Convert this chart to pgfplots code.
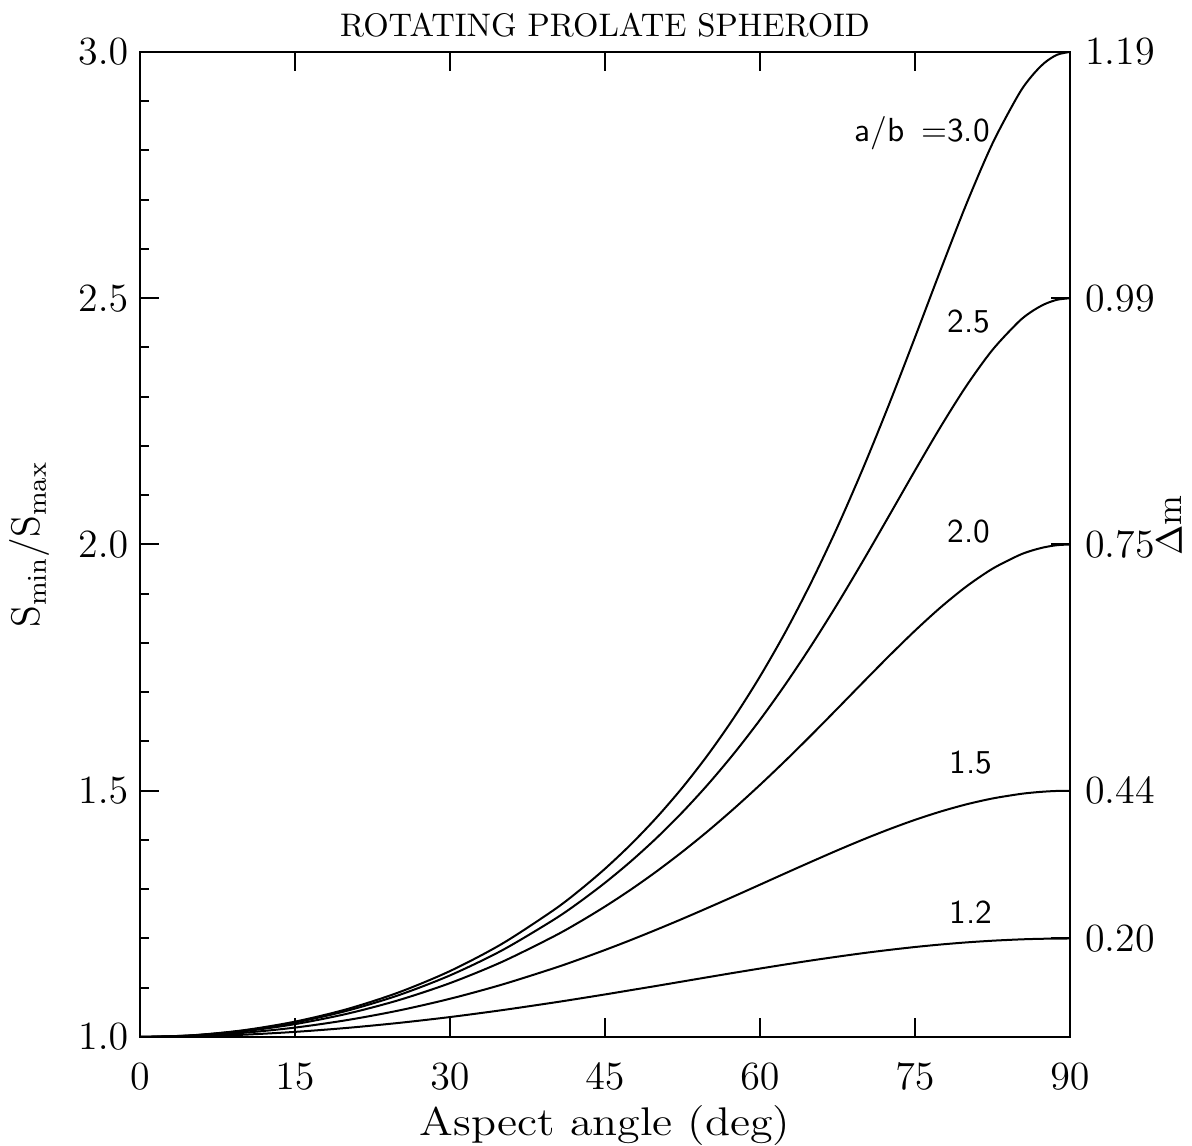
\documentclass[border=0pt]{standalone}
\usepackage{graphicx}
\usepackage{pgfplots}
\usepackage{pgfplotstable}
\pgfplotsset{compat=1.18}

% S_min/S_max against aspect angle, one column per axial ratio a/b
\pgfplotstableread{
x     r12    r15    r20    r25    r30
0     1.0000 1.0000 1.0000 1.0000 1.0000
5     1.0012 1.0021 1.0029 1.0032 1.0034
10    1.0046 1.0085 1.0115 1.0129 1.0137
15    1.0104 1.0191 1.0261 1.0294 1.0312
20    1.0184 1.0342 1.0470 1.0531 1.0564
25    1.0285 1.0536 1.0746 1.0847 1.0903
30    1.0405 1.0776 1.1094 1.1251 1.1339
35    1.0544 1.1062 1.1522 1.1755 1.1888
40    1.0698 1.1393 1.2038 1.2376 1.2572
42.5  1.0780 1.1575 1.2331 1.2735 1.2972
45    1.0864 1.1767 1.2649 1.3131 1.3416
47.5  1.0951 1.1969 1.2993 1.3566 1.3910
50    1.1038 1.2181 1.3364 1.4043 1.4458
52.5  1.1127 1.2400 1.3763 1.4566 1.5066
55    1.1216 1.2627 1.4188 1.5138 1.5742
57.5  1.1304 1.2858 1.4641 1.5762 1.6491
60    1.1390 1.3093 1.5119 1.6440 1.7321
62.5  1.1474 1.3329 1.5619 1.7173 1.8238
65    1.1555 1.3562 1.6138 1.7960 1.9250
67.5  1.1631 1.3791 1.6670 1.8797 2.0358
70    1.1703 1.4011 1.7207 1.9678 2.1562
72.5  1.1768 1.4218 1.7738 2.0587 2.2852
75    1.1827 1.4409 1.8250 2.1503 2.4207
77.5  1.1878 1.4579 1.8727 2.2397 2.5586
80    1.1921 1.4725 1.9152 2.3229 2.6927
82.5  1.1955 1.4843 1.9508 2.3952 2.8143
85    1.1980 1.4929 1.9776 2.4516 2.9128
86.25 1.1989 1.4960 1.9873 2.4724 2.9499
87.5  1.1995 1.4982 1.9943 2.4876 2.9774
88.75 1.1999 1.4996 1.9986 2.4969 2.9944
90    1.2000 1.5000 2.0000 2.5000 3.0000
}\spheroid

\begin{document}
\begin{tikzpicture}
\pgfplotsset{
  frame/.style={
    scale only axis, width=279pt, height=295.5pt,
    xmin=0, xmax=90, ymin=1, ymax=3,
    tick align=inside,
    major tick length=5.7pt, minor tick length=2.7pt,
    axis line style={line width=0.6pt},
    every tick/.style={line width=0.6pt, black},
    tick label style={font=\fontsize{12}{14}\selectfont},
  },
  every axis title shift=0pt,
  curve/.style={black, line width=0.6pt, no markers, smooth},
}
\begin{axis}[
    frame,
    xtick={0,15,...,90},
    ytick={1,1.5,...,3},
    minor y tick num=4,
    xtick pos=both, ytick pos=left,
    xticklabel style={yshift=-4.5pt},
    yticklabel style={/pgf/number format/.cd, fixed, fixed zerofill, precision=1},
    title={\fontsize{9.8}{11}\selectfont ROTATING PROLATE SPHEROID},
    title style={at={(axis description cs:0.5,1.0162)}, anchor=base, inner sep=0pt},
    xlabel={\fontsize{12}{14}\selectfont\scalebox{1.15}[1]{Aspect angle (deg)}},
    xlabel style={at={(axis description cs:0.5,-0.0995)}, anchor=base, inner sep=0pt},
    ylabel={\fontsize{12}{14}\selectfont S$_{\rm min}$/S$_{\rm max}$},
    ylabel style={at={(axis description cs:-0.1183,0.5)}, anchor=center, inner sep=0pt},
  ]
  \addplot[curve] table[x=x, y=r12] {\spheroid};
  \addplot[curve] table[x=x, y=r15] {\spheroid};
  \addplot[curve] table[x=x, y=r20] {\spheroid};
  \addplot[curve] table[x=x, y=r25] {\spheroid};
  \addplot[curve] table[x=x, y=r30] {\spheroid};

  \begin{scope}[font=\sffamily\fontsize{10}{12}\selectfont]
    \node[anchor=east, inner sep=0pt] at (axis cs:82.3,2.836) {a/b\hspace{5pt}=3.0};
    \node[inner sep=0pt] at (axis cs:80.2,2.452) {2.5};
    \node[inner sep=0pt] at (axis cs:80.2,2.027) {2.0};
    \node[inner sep=0pt] at (axis cs:80.4,1.558) {1.5};
    \node[inner sep=0pt] at (axis cs:80.4,1.254) {1.2};
  \end{scope}

  \coordinate (bl) at (rel axis cs:0,0);
  \coordinate (tr) at (rel axis cs:1,1);
\end{axis}

% right-hand scale: amplitude in magnitudes
\begin{axis}[
    frame,
    axis x line=none,
    axis y line*=right,
    ytick={1.2,1.5,2,2.5,3},
    yticklabels={0.20,0.44,0.75,0.99,1.19},
    yticklabel style={xshift=1pt},
    ylabel={\fontsize{11}{13}\selectfont$\Delta$m},
    ylabel style={at={(axis description cs:1.107,0.519)}, anchor=center, inner sep=0pt},
  ]
  \addplot[draw=none] coordinates {(0,1)};
\end{axis}

\pgfresetboundingbox
\path[use as bounding box] ([shift={(-42pt,-32.7pt)}]bl) rectangle ([shift={(36.6pt,15.6pt)}]tr);
\end{tikzpicture}
\end{document}
